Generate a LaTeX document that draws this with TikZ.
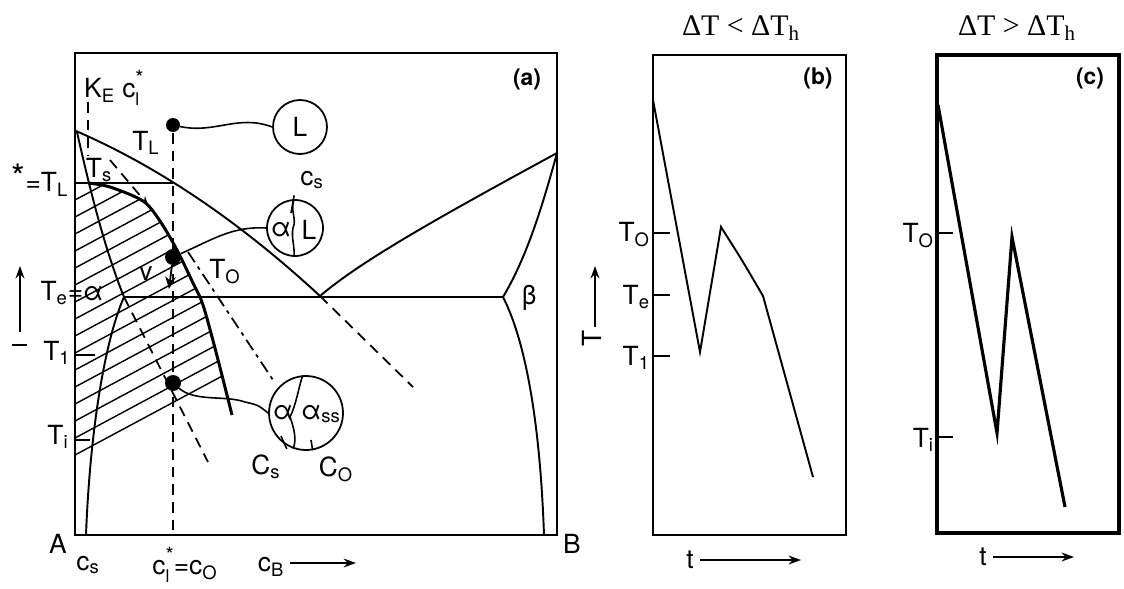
\documentclass[tikz,border=0pt]{standalone}
\usepackage{fontspec}
\setsansfont{TeX Gyre Heros}
\newfontfamily\titlefont{Liberation Serif}
\usetikzlibrary{arrows.meta}
\newcommand{\lsub}[1]{\textsubscript{#1}}
\newcommand{\supsub}[2]{\rlap{\raisebox{0.85ex}{\fontsize{12}{12}\selectfont #1}}\raisebox{-0.6ex}{\fontsize{10}{10}\selectfont #2}}

\begin{document}
\begin{tikzpicture}[x=0.02cm, y=-0.02cm,
  font=\fontsize{15}{18}\selectfont\sffamily,
  frame/.style={line width=1.4pt},
  phase/.style={line width=1.1pt},
  hatch/.style={line width=0.8pt},
  dashline/.style={line width=1pt, dash pattern=on 6pt off 4pt},
  dashdot/.style={line width=1pt, dash pattern=on 7pt off 3pt on 2pt off 3pt},
  blob/.style={circle, fill, inner sep=0pt, minimum size=#1},
  grain/.style={circle, draw, line width=1pt, inner sep=0pt, minimum size=#1},
  wavy/.style={line width=0.9pt},
  tick/.style={line width=1pt},
  title/.style={font=\titlefont\fontsize{17}{20}\selectfont},
  tag/.style={font=\sffamily\bfseries\fontsize{13}{15}\selectfont},
  axis/.style={line width=1.1pt, -{Stealth[length=7pt, width=5pt]}},
  ]
  \useasboundingbox (0,0) rectangle (1124,588);

  %%% panel (a): frame %%%
  \draw[frame] (75,53) rectangle (557,535);

  %%% hatched alpha region (up to the T0 curve) %%%
  \begin{scope}
    \clip (75,183) -- plot[smooth] coordinates {(88,183) (110,187) (143,201) (160,221) (177,250) (193,283) (203,305) (216,352) (232,415)}
      -- (232,560) -- (75,560) -- cycle;
    \foreach \hy in {200,217,...,455}
      \draw[hatch] (75,\hy) -- ++(220,-118);
  \end{scope}

  %%% phase boundaries %%%
  \draw[phase] (76,131) .. controls (159,167) and (240,222) .. (320,296)
    .. controls (360,262) and (430,222) .. (557,153);
  \draw[phase] (557,153) .. controls (540,215) and (525,260) .. (503,297)
    .. controls (525,340) and (540,420) .. (544,535);
  \draw[phase] (77,132) .. controls (90,190) and (105,250) .. (124,297)
    .. controls (105,340) and (90,430) .. (86,535);
  \draw[phase] (124,297) -- (503,297);
  \draw[phase] (75,183) -- (173,183);
  \draw[line width=1.7pt] plot[smooth] coordinates {(88,183) (110,187) (143,201) (160,221) (177,250) (193,283) (203,305) (216,352) (232,415)};

  %%% dashed extensions %%%
  \draw[dashline] (124,297) -- (208,462);
  \draw[dashline] (320,296) -- (413,387);
  \draw[dashdot] (188,252) -- (273,380);
  \draw[dashline] (173,133) -- (173,535);
  \draw[dashline] (88,102) -- (88,155);
  \draw[dashline, -{Stealth[length=5pt, width=4pt]}] (110,160) -- (148,205);

  %%% state points and grain sketches %%%
  \node[blob=0.28cm] (dotL)  at (173,125) {};
  \node[blob=0.32cm] (dotAL) at (173,257) {};
  \node[blob=0.32cm] (dotAS) at (173,383) {};
  \coordinate (vtip) at (169,289);
  \draw[line width=1pt, -{Stealth[length=7pt, width=6pt]}] (dotAL) -- (vtip);

  \node[grain=1.08cm] (circL)  at (300,127) {L};
  \node[grain=1.12cm] (circAL) at (295,228) {};
  \node[grain=1.48cm] (circAS) at (306,413) {};

  \draw[wavy] (dotL) .. controls (215,134) and (238,114) .. (circL.west);
  \draw[wavy] (dotAL) .. controls (212,240) and (232,226) .. (circAL.west);
  \draw[wavy] (dotAS) .. controls (195,402) and (225,395) .. (245,402)
    .. controls (258,405) .. (circAS.west);

  % alpha / L interface
  \node (txtAa) at (281,230) {α};
  \node (txtAL) at (309,230) {L};
  \draw[wavy] (circAL.92) .. controls (290,212) and (297,218) .. (293,228)
    .. controls (291,238) and (295,246) .. (circAL.268);
  \node (lblcsA) at (312,180) {c\lsub{s}};
  \coordinate (csA) at (291,213);
  \draw[wavy] (lblcsA.south west) -- (csA);

  % alpha / alpha_ss interface
  \node (txtSa)  at (283,413) {α};
  \node (txtSss) at (321,414) {α\lsub{ss}};
  \draw[wavy] (circAS.95) .. controls (298,390) and (296,405) .. (290,417)
    .. controls (294,428) and (297,440) .. (circAS.250);
  \node (lblCs) at (266,467) {C\lsub{s}};
  \node (lblCo) at (336,469) {C\lsub{O}};
  \coordinate (csS) at (281,436);
  \coordinate (coS) at (311,440);
  \draw[wavy] (lblCs.north east) -- (csS);
  \draw[wavy] (lblCo.north west) -- (coS);

  %%% labels in (a) %%%
  \node[tag] (tagA) at (527,79) {(a)};
  \node[anchor=west] (lblKE) at (78,88) {K\lsub{E} c\supsub{*}{l}};
  \node (lblTL) at (146,143) {T\lsub{L}};
  \node (lblTs) at (99,170) {T\lsub{s}};
  \node (lblTLs) at (40,180) {\raisebox{0.2ex}{\fontsize{20}{20}\selectfont *}=T\lsub{L}};
  \node (lblv) at (146,274) {v};
  \node (lblTO) at (225,272) {T\lsub{O}};
  \node (lblTe) at (72,293) {T\lsub{e}=α};
  \node (lblbeta) at (529,298) {β};
  \draw[tick] (75,355) -- (95,355);
  \node (lblT1) at (57,353) {T\lsub{1}};
  \draw[tick] (75,440) -- (90,440);
  \node (lblTi) at (58,437) {T\lsub{i}};
  \coordinate (axAlo) at (20,332);
  \coordinate (axAhi) at (20,266);
  \draw[axis] (axAlo) -- (axAhi);
  \draw[tick] (12,345) -- (27,345);

  %%% composition axis %%%
  \node (lblA) at (58,544) {A};
  \node (lblB) at (572,544) {B};
  \node (lblcs) at (88,565) {c\lsub{s}};
  \node (lblcl) at (185,565) {c\supsub{*}{l}\,=c\lsub{O}};
  \node (lblcB) at (271,567) {c\lsub{B}};
  \coordinate (cBend) at (356,563);
  \draw[axis] (lblcB.east) ++(0,-4) -- (cBend);

  %%% panel (b): cooling curve, small undercooling %%%
  \node[title] (titleB) at (741,28) {ΔT < ΔT\lsub{h}};
  \draw[line width=1.1pt] (653,55) rectangle (846,535);
  \node[tag] (tagB) at (818,78) {(b)};
  \draw[phase] (653,100) -- (700,352) -- (721,227)
    .. controls (742,260) .. (763,296) -- (813,477);
  \foreach \ty/\tl in {233/O, 295/e, 356/1} {
    \draw[tick] (653,\ty) -- (670,\ty);
    \node[anchor=east, inner sep=1pt] (lblB\tl) at (652,\ty+2) {T\lsub{\tl}};
  }
  \coordinate (axBlo) at (595,327);
  \coordinate (axBhi) at (595,266);
  \draw[axis] (axBlo) -- (axBhi);
  \node[rotate=90] (lblBT) at (592,338) {T};
  \node (lblBt) at (690,560) {t};
  \coordinate (axBt) at (801,560);
  \draw[axis] (lblBt.east) -- (axBt);

  %%% panel (c): cooling curve, large undercooling %%%
  \node[title] (titleC) at (1017,28) {ΔT > ΔT\lsub{h}};
  \draw[line width=2pt] (937,55) rectangle (1119,533);
  \node[tag] (tagC) at (1090,78) {(c)};
  \draw[line width=1.8pt] (938,105) -- (997,433) -- (1012,237) -- (1065,507);
  \foreach \ty/\tl in {233/O, 437/i} {
    \draw[tick, line width=1.5pt] (937,\ty) -- (953,\ty);
    \node[anchor=east, inner sep=1pt] (lblC\tl) at (936,\ty+3) {T\lsub{\tl}};
  }
  \node (lblCt) at (983,557) {t};
  \coordinate (axCt) at (1074,557);
  \draw[axis, line width=1.6pt] (lblCt.east) -- (axCt);
\end{tikzpicture}
\end{document}
